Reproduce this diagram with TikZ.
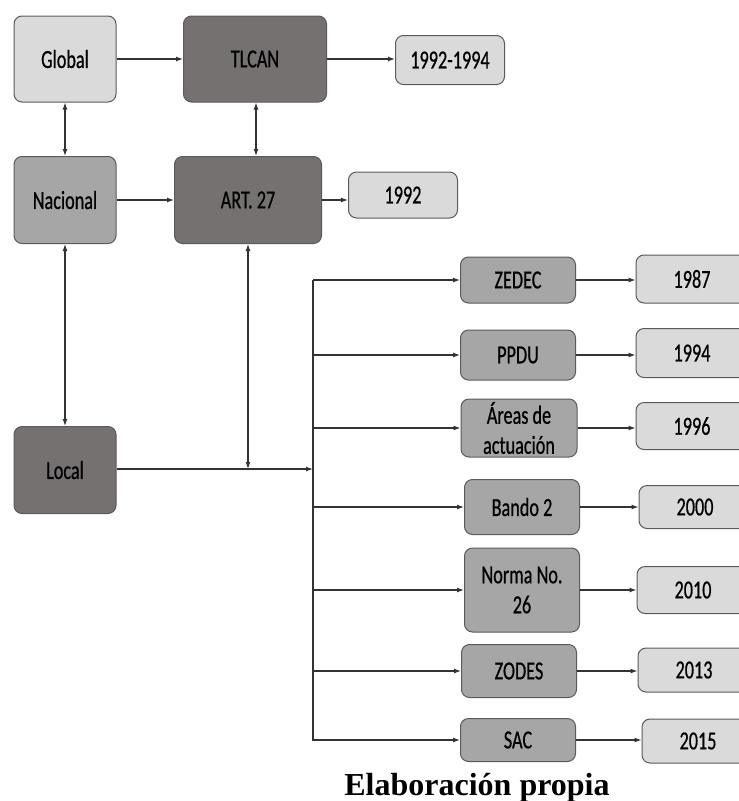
\documentclass[tikz,border=0pt]{standalone}
\usepackage{fontspec}
\setmainfont{Carlito}
\newfontfamily\boxfont[FakeStretch=0.7,FakeBold=0.6]{Carlito}
\newfontfamily\capfont{Liberation Serif}
\usetikzlibrary{arrows.meta}
\definecolor{lightbox}{HTML}{DADADA}
\definecolor{midbox}{HTML}{A6A6A6}
\definecolor{darkbox}{HTML}{767171}
\definecolor{edgecol}{HTML}{5A5A5A}
\definecolor{linecol}{HTML}{333333}
\tikzset{
  box/.style={draw=edgecol, line width=1pt, rounded corners=8pt, align=center,
    font=\boxfont\fontsize{26}{30}\selectfont, inner sep=2pt, text=black},
  lightb/.style={box, fill=lightbox},
  midb/.style={box, fill=midbox},
  darkb/.style={box, fill=darkbox},
  conn/.style={draw=linecol, line width=1.2pt},
  arr/.style={conn, -{Latex[length=7pt,width=5pt]}},
  darr/.style={conn, {Latex[length=7pt,width=5pt]}-{Latex[length=7pt,width=5pt]}},
}
\begin{document}
\begin{tikzpicture}[x=1pt,y=-1pt]
\useasboundingbox (0,0) rectangle (739,801);
\clip (0,0) rectangle (739,801);
% top left
\node[lightb, minimum width=102pt, minimum height=86pt] (global) at (65,59) {Global};
\node[darkb, minimum width=143pt, minimum height=86pt] (tlcan) at (255,59) {TLCAN};
\node[lightb, minimum width=109pt, minimum height=49pt] (y1) at (450,60) {1992-1994};
\node[midb, minimum width=102pt, minimum height=87pt] (nacional) at (65,200) {Nacional};
\node[darkb, minimum width=147pt, minimum height=87pt] (art) at (248,200) {ART. 27};
\node[lightb, minimum width=109pt, minimum height=46pt] (y2) at (403,195) {1992};
\node[darkb, minimum width=102pt, minimum height=87pt] (local) at (65,470) {Local};
% middle column
\node[midb, minimum width=115pt, minimum height=46pt] (m1) at (518,280) {ZEDEC};
\node[midb, minimum width=115pt, minimum height=50pt] (m2) at (518,355) {PPDU};
\node[midb, minimum width=116pt, minimum height=58pt] (m3) at (519,428) {Áreas de\\actuación};
\node[midb, minimum width=115pt, minimum height=55pt] (m4) at (522,507) {Bando 2};
\node[midb, minimum width=115pt, minimum height=84pt] (m5) at (522,590) {Norma No.\\26};
\node[midb, minimum width=115pt, minimum height=53pt] (m6) at (519,671) {ZODES};
\node[midb, minimum width=115pt, minimum height=43pt] (m7) at (518,740) {SAC};
% year column
\node[lightb, minimum width=112pt, minimum height=48pt] (r1) at (692,279) {1987};
\node[lightb, minimum width=112pt, minimum height=49pt] (r2) at (692,353) {1994};
\node[lightb, minimum width=112pt, minimum height=47pt] (r3) at (692,426) {1996};
\node[lightb, minimum width=112pt, minimum height=43pt] (r4) at (695,507) {2000};
\node[lightb, minimum width=112pt, minimum height=47pt] (r5) at (693,590) {2010};
\node[lightb, minimum width=112pt, minimum height=44pt] (r6) at (694,670) {2013};
\node[lightb, minimum width=112pt, minimum height=44pt] (r7) at (698,741) {2015};
% caption
\node[anchor=base, font=\capfont\bfseries\fontsize{32}{36}\selectfont, inner sep=0pt] (cap) at (477,795) {Elaboración propia};
% bus coordinates
\coordinate (bt) at (313,280);
\coordinate (bb) at (313,741);
\coordinate (bj) at (313,469);
\coordinate (aj) at (248,469);
% connectors
\draw[arr] (global.east) -- (global.east -| tlcan.west);
\draw[arr] (tlcan.east) -- (tlcan.east -| y1.west);
\draw[darr] (global.south) -- (nacional.north);
\draw[darr] (tlcan.south -| 256,0) -- (art.north -| 256,0);
\draw[arr] (nacional.east) -- (nacional.east -| art.west);
\draw[arr] (art.east) -- (art.east -| y2.west);
\draw[darr] (nacional.south) -- (local.north);
\draw[darr] (art.south) -- (aj);
\draw[arr] (local.east |- bj) -- (bj);
\draw[conn] (bt) -- (bb);
\foreach \m/\r in {m1/r1,m2/r2,m3/r3,m4/r4,m5/r5,m6/r6,m7/r7}{
  \draw[arr] (bt |- \m.west) -- (\m.west);
  \draw[arr] (\m.east) -- (\m.east -| \r.west);
}
\end{tikzpicture}
\end{document}
